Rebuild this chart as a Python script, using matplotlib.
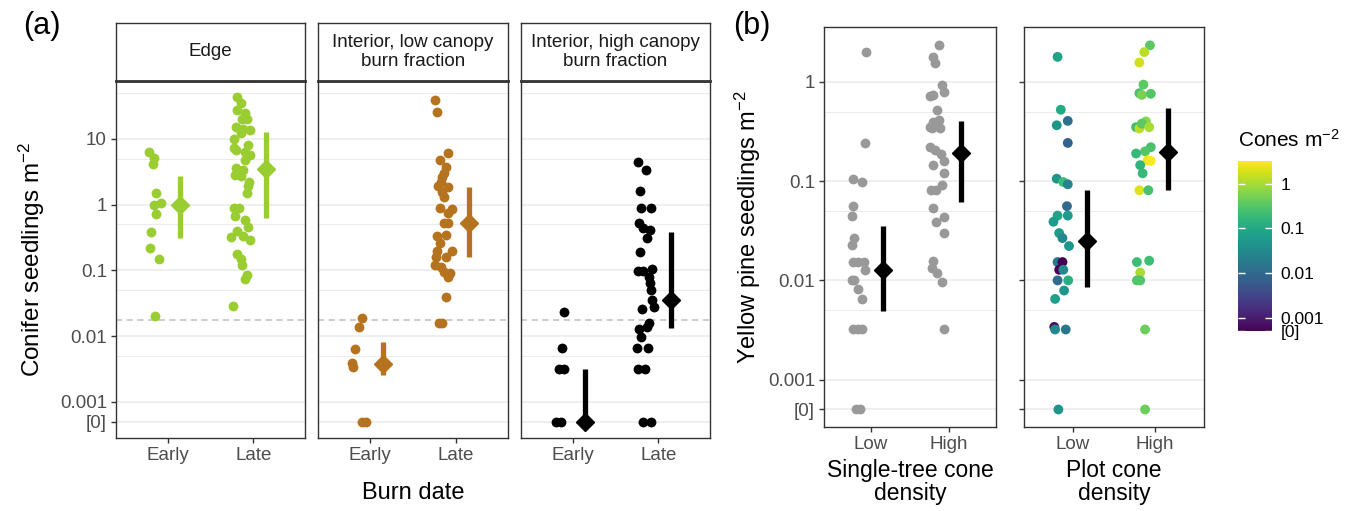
import numpy as np
import matplotlib as mpl
import matplotlib.pyplot as plt
from matplotlib.colors import LogNorm

plt.rcParams['font.family'] = ['Liberation Sans', 'DejaVu Sans']
plt.rcParams['mathtext.default'] = 'regular'

W, H = 1359, 511
ZERO = 0.0005   # where zero counts sit on the log axis ("[0]")

# ---------------- panel (a) data ----------------
burn_dates = ['Early', 'Late']
facets_a = ['Edge', 'Interior, low canopy\nburn fraction', 'Interior, high canopy\nburn fraction']
colors_a = ['#9acd32', '#b5721f', 'black']

edge_early = [6.3, 5.2, 4.2, 1.5, 1.0, 1.05, 0.71, 0.39, 0.22, 0.15, 0.020]
edge_early_dx = [-0.22, -0.16, -0.17, -0.13, -0.16, -0.08, -0.14, -0.19, -0.21, -0.10, -0.15]
edge_late = [44, 35.7, 27.7, 24.6, 19.9, 19.9, 15.4, 14.0, 13.7, 12.2, 9.9, 8.1, 7.2, 6.8,
             6.4, 5.7, 4.8, 3.6, 3.4, 2.8, 2.7, 2.2, 1.9, 1.5, 0.88, 0.88, 0.68, 0.58,
             0.45, 0.40, 0.32, 0.33, 0.29, 0.18, 0.15, 0.12, 0.085, 0.073, 0.029]
edge_late_dx = [-0.19, -0.14, -0.19, -0.10, -0.13, -0.07, -0.20, -0.12, -0.04, -0.14, -0.23,
                -0.06, -0.23, -0.20, -0.10, -0.04, -0.10, -0.20, -0.12, -0.21, -0.15, -0.05,
                -0.06, -0.07, -0.23, -0.17, -0.22, -0.10, -0.06, -0.19, -0.26, -0.12, -0.04,
                -0.19, -0.15, -0.13, -0.08, -0.10, -0.24]

lowc_early = [0.0186, 0.0139, 0.0063, 0.0039, 0.0034, 0, 0]
lowc_early_dx = [-0.09, -0.12, -0.17, -0.21, -0.19, -0.09, -0.04]
lowc_late = [39.3, 25.8, 6.2, 4.8, 3.7, 3.07, 2.67, 2.24, 1.92, 1.84, 1.58, 1.32, 0.89, 0.85,
             0.74, 0.52, 0.52, 0.33, 0.345, 0.26, 0.20, 0.20, 0.16, 0.16, 0.12, 0.114,
             0.095, 0.092, 0.080, 0.040, 0.016, 0.016]
lowc_late_dx = [-0.24, -0.22, -0.09, -0.19, -0.12, -0.14, -0.17, -0.18, -0.21, -0.10, -0.16,
                -0.14, -0.19, -0.05, -0.09, -0.14, -0.09, -0.22, -0.12, -0.19, -0.22, -0.05,
                -0.23, -0.12, -0.24, -0.18, -0.14, -0.07, -0.09, -0.12, -0.17, -0.20]

highc_early = [0.0235, 0.0066, 0.0032, 0.0032, 0, 0]
highc_early_dx = [-0.10, -0.12, -0.16, -0.10, -0.19, -0.13]
highc_late = [4.4, 3.37, 1.63, 0.90, 0.90, 0.52, 0.44, 0.41, 0.31, 0.19, 0.099, 0.099, 0.105,
              0.080, 0.065, 0.050, 0.035, 0.026, 0.028, 0.016, 0.0128, 0.0139, 0.0098,
              0.0065, 0.0065, 0.0032, 0.0032, 0, 0]
highc_late_dx = [-0.24, -0.15, -0.21, -0.20, -0.09, -0.23, -0.18, -0.10, -0.13, -0.21, -0.24,
                 -0.18, -0.07, -0.11, -0.10, -0.09, -0.07, -0.19, -0.05, -0.11, -0.23, -0.13,
                 -0.20, -0.25, -0.12, -0.24, -0.16, -0.18, -0.09]

# model means with intervals: (mean, lower, upper) for Early, Late
edge_means = [(1.0, 0.31, 2.76), (3.45, 0.62, 12.6)]
lowc_means = [(0.00375, 0.00255, 0.0080), (0.52, 0.16, 1.84)]
highc_means = [(0, 0, 0.0032), (0.036, 0.0131, 0.39)]
threshold_a = 0.0175

# ---------------- panel (b) data ----------------
cone_levels = ['Low', 'High']
facets_b = ['Single-tree cone\ndensity', 'Plot cone\ndensity']

tree_low = [2.0, 0.243, 0.106, 0.098, 0.056, 0.045, 0.0267, 0.0226, 0.0153, 0.0153, 0.0153,
            0.0128, 0.0100, 0.0100, 0.0081, 0.0065, 0.0032, 0.0032, 0.0032, 0, 0]
tree_low_dx = [-0.06, -0.07, -0.23, -0.12, -0.23, -0.24, -0.21, -0.24, -0.23, -0.17, -0.09,
               -0.07, -0.24, -0.22, -0.17, -0.12, -0.23, -0.17, -0.12, -0.19, -0.14]
tree_high = [2.34, 1.79, 1.56, 0.925, 0.72, 0.74, 0.79, 0.52, 0.41, 0.395, 0.35, 0.36, 0.34,
             0.34, 0.22, 0.205, 0.19, 0.16, 0.145, 0.121, 0.092, 0.081, 0.081, 0.054, 0.044,
             0.039, 0.030, 0.0157, 0.0132, 0.0119, 0.0096, 0.0032]
tree_high_dx = [-0.13, -0.20, -0.18, -0.09, -0.25, -0.21, -0.07, -0.16, -0.13, -0.21, -0.25,
                -0.17, -0.11, -0.22, -0.25, -0.18, -0.10, -0.07, -0.21, -0.07, -0.09, -0.23,
                -0.17, -0.20, -0.06, -0.17, -0.06, -0.20, -0.22, -0.15, -0.09, -0.06]
tree_means = [(0.0128, 0.0049, 0.035), (0.192, 0.062, 0.40)]

plot_low = [1.79, 0.525, 0.405, 0.366, 0.243, 0.106, 0.098, 0.093, 0.056, 0.045, 0.039, 0.045,
            0.030, 0.0267, 0.0222, 0.0153, 0.0153, 0.0128, 0.0128, 0.0100, 0.0100, 0.0079,
            0.0065, 0.0034, 0.0032, 0.0032, 0]
plot_low_dx = [-0.19, -0.15, -0.065, -0.20, -0.065, -0.20, -0.12, -0.065, -0.075, -0.19, -0.24,
               -0.065, -0.17, -0.13, -0.05, -0.19, -0.13, -0.17, -0.12, -0.19, -0.06, -0.11,
               -0.22, -0.23, -0.22, -0.09, -0.18]
plot_low_cones = [0.08, 0.1, 0.012, 0.05, 0.008, 0.05, 0.2, 0.025, 0.01, 0.08, 0.06, 0.06,
                  0.06, 0.03, 0.05, 0.015, 0, 0, 0.03, 0.01, 0.12, 0.05, 0.07, 0.0007, 0.03,
                  0.015, 0.045]
plot_high = [2.34, 2.0, 1.57, 0.94, 0.77, 0.74, 0.76, 0.40, 0.35, 0.34, 0.38, 0.35, 0.22, 0.20,
             0.19, 0.162, 0.16, 0.145, 0.12, 0.081, 0.081, 0.0153, 0.0158, 0.012, 0.0100,
             0.0100, 0.0032, 0]
plot_high_dx = [-0.06, -0.13, -0.19, -0.14, -0.19, -0.16, -0.05, -0.11, -0.23, -0.19, -0.16,
                -0.07, -0.05, -0.12, -0.23, -0.09, -0.05, -0.18, -0.15, -0.19, -0.08, -0.22,
                -0.07, -0.18, -0.22, -0.18, -0.12, -0.12]
plot_high_cones = [0.35, 1.3, 1.7, 0.35, 0.25, 0.55, 0.3, 0.7, 0.22, 1.3, 0.35, 1.0, 0.25, 0.3,
                   0.18, 2.5, 3.0, 0.15, 0.18, 2.0, 0.25, 0.2, 0.22, 1.0, 0.3, 0.3, 0.45, 0.45]
plot_means = [(0.0248, 0.0085, 0.082), (0.197, 0.081, 0.547)]

ticks_a = [ZERO, 0.001, 0.01, 0.1, 1, 10]
ticklabels_a = ['[0]', '0.001', '0.01', '0.1', '1', '10']
minor_a = [0.005, 0.05, 0.5, 5, 50]
ticks_b = [ZERO, 0.001, 0.01, 0.1, 1]
ticklabels_b = ['[0]', '0.001', '0.01', '0.1', '1']
minor_b = [0.005, 0.05, 0.5]
cbar_ticks = [ZERO, 0.001, 0.01, 0.1, 1]


def z(v):
    v = np.asarray(v, dtype=float)
    return np.where(v > 0, v, ZERO)


fig = plt.figure(figsize=(W / 100, H / 100), dpi=100)


def px_axes(x0, y0, x1, y1):
    return fig.add_axes([x0 / W, 1 - y1 / H, (x1 - x0) / W, (y1 - y0) / H])


def style_panel(ax, ylim, ticks, labels, minor, xlabels, show_y=True):
    ax.set_yscale('log')
    ax.set_ylim(*ylim)
    ax.set_xlim(-0.6, 1.6)
    for v in ticks:
        ax.axhline(v, color='#ebebeb', lw=1.1, zorder=0)
    for v in minor:
        ax.axhline(v, color='#ebebeb', lw=0.7, zorder=0)
    ax.set_yticks(ticks)
    ax.yaxis.set_minor_locator(mpl.ticker.NullLocator())
    if show_y is True:
        ax.set_yticklabels(labels)
    else:
        ax.set_yticklabels([])
    ax.set_xticks([0, 1])
    ax.set_xticklabels(xlabels)
    ax.tick_params(axis='both', length=3.5, width=1.0, color='#333333',
                   labelcolor='#4d4d4d', labelsize=13.5, pad=3)
    if show_y is None:
        ax.tick_params(axis='y', length=0)
    for s in ax.spines.values():
        s.set_color('#333333')
        s.set_linewidth(1.0)


def draw_group(ax, x, vals, dx, color, mean, mdx=0.15, cvals=None, norm=None):
    xs = x + np.asarray(dx)
    if cvals is None:
        ax.scatter(xs, z(vals), s=50, color=color, linewidths=0, zorder=3)
    else:
        ax.scatter(xs, z(vals), s=50, c=z(cvals), cmap='viridis', norm=norm,
                   linewidths=0, zorder=3)
    m, lo, hi = mean
    mc = 'black' if cvals is not None or color == '#999999' else color
    ax.plot([x + mdx, x + mdx], [z(lo), z(hi)], color=mc, lw=3.8,
            solid_capstyle='butt', zorder=4)
    ax.plot([x + mdx], [z(m)], marker='D', ms=9, color=mc, mec=mc, zorder=5)


# ---------------- panel (a) ----------------
groups_a = [
    [(edge_early, edge_early_dx), (edge_late, edge_late_dx), edge_means],
    [(lowc_early, lowc_early_dx), (lowc_late, lowc_late_dx), lowc_means],
    [(highc_early, highc_early_dx), (highc_late, highc_late_dx), highc_means],
]
xpos_a = [(116, 305), (318, 508), (521, 710)]
for i, (x0, x1) in enumerate(xpos_a):
    ax = px_axes(x0, 81, x1, 438)
    style_panel(ax, (2.81e-4, 76.3), ticks_a, ticklabels_a, minor_a, burn_dates,
                show_y=True if i == 0 else None)
    ax.axhline(threshold_a, color='#bdbdbd', ls=(0, (4, 3)), lw=1.1, zorder=1)
    early, late, means = groups_a[i]
    draw_group(ax, 0, early[0], early[1], colors_a[i], means[0])
    draw_group(ax, 1, late[0], late[1], colors_a[i], means[1])
    st = px_axes(x0, 23, x1, 81)
    st.set_xticks([])
    st.set_yticks([])
    for s in st.spines.values():
        s.set_color('#333333')
        s.set_linewidth(1.0)
    st.spines['bottom'].set_linewidth(2.0)
    st.text(0.5, 0.5, facets_a[i], ha='center', va='center', fontsize=13.5,
            color='#1a1a1a', linespacing=1.15, transform=st.transAxes)

fig.text(413 / W, 1 - 493 / H, 'Burn date', ha='center', va='center', fontsize=17)
fig.text(32 / W, 1 - 259.5 / H, 'Conifer seedlings m$^{-2}$', rotation=90,
         ha='center', va='center', fontsize=17.5)
fig.text(42 / W, 1 - 26 / H, '(a)', ha='center', va='center', fontsize=22)

# ---------------- panel (b) ----------------
norm = LogNorm(vmin=ZERO, vmax=3.2)
axb1 = px_axes(824, 27, 996, 427)
style_panel(axb1, (3.33e-4, 3.58), ticks_b, ticklabels_b, minor_b, cone_levels)
draw_group(axb1, 0, tree_low, tree_low_dx, '#999999', tree_means[0])
draw_group(axb1, 1, tree_high, tree_high_dx, '#999999', tree_means[1])

axb2 = px_axes(1024, 27, 1204, 427)
style_panel(axb2, (3.33e-4, 3.58), ticks_b, ticklabels_b, minor_b, cone_levels, show_y=False)
draw_group(axb2, 0, plot_low, plot_low_dx, 'black', plot_means[0], mdx=0.165,
           cvals=plot_low_cones, norm=norm)
draw_group(axb2, 1, plot_high, plot_high_dx, 'black', plot_means[1], mdx=0.165,
           cvals=plot_high_cones, norm=norm)

fig.text(910 / W, 1 - 482 / H, facets_b[0], ha='center', va='center', fontsize=16.5,
         linespacing=0.98)
fig.text(1114 / W, 1 - 482 / H, facets_b[1], ha='center', va='center', fontsize=16.5,
         linespacing=0.98)
fig.text(748 / W, 1 - 227 / H, 'Yellow pine seedlings m$^{-2}$', rotation=90,
         ha='center', va='center', fontsize=17)
fig.text(752 / W, 1 - 26 / H, '(b)', ha='center', va='center', fontsize=22)

# colour bar
cax = px_axes(1238, 161, 1272, 331)
cb = fig.colorbar(mpl.cm.ScalarMappable(norm=norm, cmap='viridis'), cax=cax)
cb.outline.set_visible(False)
cb.set_ticks(cbar_ticks)
cb.set_ticklabels(ticklabels_b)
cax.minorticks_off()
cax.tick_params(axis='y', which='major', direction='in', length=5, width=1,
                color='white', left=True, right=True, labelleft=False, labelright=True,
                labelsize=12.5, labelcolor='black', pad=6)
fig.text(1238 / W, 1 - 140 / H, 'Cones m$^{-2}$', ha='left', va='center', fontsize=15)

fig.savefig('out.png', dpi=100)
